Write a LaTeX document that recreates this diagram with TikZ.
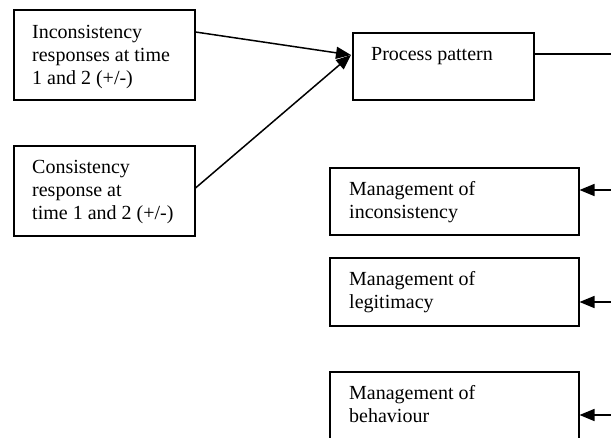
\documentclass[tikz,border=0pt]{standalone}
\usepackage{fontspec}
\setmainfont{Liberation Serif}
\usetikzlibrary{arrows.meta,calc}
% first line raised to a fixed height so its baseline sits 16pt below the top
\newcommand{\firstline}{\rule{0pt}{16pt}}
\begin{document}
\begin{tikzpicture}[x=1pt,y=-1pt,
  box/.style={draw, line width=1.5pt, anchor=north west, inner sep=0pt},
  lbl/.style={anchor=north west, inner sep=0pt, align=left,
    font=\fontsize{20}{23}\selectfont},
  link/.style={line width=1.5pt},
  arr/.style={link, -{Triangle[length=15pt,width=12pt]}}]
\useasboundingbox (0,0) rectangle (611,437);
\clip (0,0) rectangle (611,437);

% input boxes
\node[box, minimum width=181pt, minimum height=90pt] (inc) at (13,9) {};
\node[lbl] (inct) at ($(inc.north west)+(19,13)$)
  {\firstline Inconsistency\\responses at time\\1 and 2 (+/-)};
\node[box, minimum width=181pt, minimum height=90pt] (cons) at (13,145) {};
\node[lbl] (const) at ($(cons.north west)+(19,12)$)
  {\firstline Consistency\\response at\\time 1 and 2 (+/-)};

% process box
\node[box, minimum width=181pt, minimum height=67pt] (proc) at (352,32) {};
\node[lbl] (proct) at ($(proc.north west)+(19,12)$) {\firstline Process pattern};

% management boxes
\node[box, minimum width=249pt, minimum height=67pt] (mi) at (329,167) {};
\node[lbl] (mit) at ($(mi.north west)+(20,12)$)
  {\firstline Management of\\inconsistency};
\node[box, minimum width=249pt, minimum height=68pt] (ml) at (329,257) {};
\node[lbl] (mlt) at ($(ml.north west)+(20,12)$)
  {\firstline Management of\\legitimacy};
\node[box, minimum width=249pt, minimum height=80pt] (mb) at (329,371) {};
\node[lbl] (mbt) at ($(mb.north west)+(20,12)$)
  {\firstline Management of\\behaviour};

% connectors
\coordinate (edge) at (611,0);
\coordinate (pin) at ($(proc.north west)+(-1,23)$);
\draw[arr] ($(inc.north east)+(0,23)$) -- (pin);
\draw[arr] ($(cons.north east)+(0,43)$) -- (pin);

\coordinate (pout) at ($(proc.north east)+(0,22)$);
\draw[link] (pout) -- (pout -| edge);

\coordinate (r1) at ($(mi.north east)+(0,23)$);
\coordinate (r2) at ($(ml.north east)+(0,45)$);
\coordinate (r3) at ($(mb.north east)+(0,44)$);
\draw[arr] (r1 -| edge) -- (r1);
\draw[arr] (r2 -| edge) -- (r2);
\draw[arr] (r3 -| edge) -- (r3);
\end{tikzpicture}
\end{document}
